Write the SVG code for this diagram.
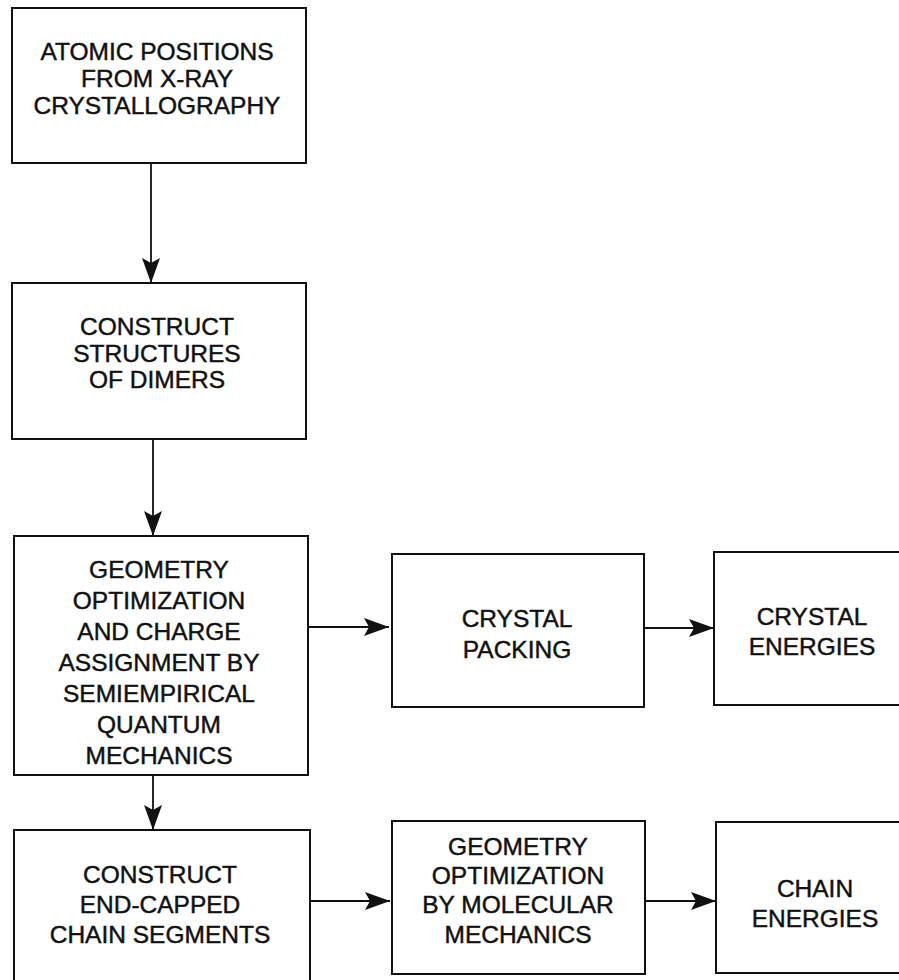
<svg xmlns="http://www.w3.org/2000/svg" width="899" height="980" viewBox="0 0 899 980">
<defs>
<style>
.box{fill:#fff;stroke:#111;stroke-width:2}
.t{font-family:"Liberation Sans",Arial,sans-serif;font-size:24.5px;fill:#111;stroke:#111;stroke-width:0.45;text-anchor:middle}
.c{stroke:#111;stroke-width:1.8;fill:none}
</style>
<marker id="ah" markerUnits="userSpaceOnUse" markerWidth="30" markerHeight="24" viewBox="-1 -12 28 24" refX="25" refY="0" orient="auto">
<path d="M0,-9 L25,0 L0,9 L5,0 z" fill="#111"/>
</marker>
</defs>
<rect width="899" height="980" fill="#fff"/>
<g id="connectors">
<line class="c" x1="151" y1="163" x2="151" y2="283" marker-end="url(#ah)"/>
<line class="c" x1="153" y1="439" x2="153" y2="536" marker-end="url(#ah)"/>
<line class="c" x1="153" y1="775" x2="153" y2="830" marker-end="url(#ah)"/>
<line class="c" x1="308" y1="627" x2="389" y2="627" marker-end="url(#ah)"/>
<line class="c" x1="644" y1="628" x2="714" y2="628" marker-end="url(#ah)"/>
<line class="c" x1="310" y1="901" x2="390" y2="901" marker-end="url(#ah)"/>
<line class="c" x1="645" y1="901" x2="716" y2="901" marker-end="url(#ah)"/>
</g>
<g id="n1">
<rect class="box" x="12" y="8" width="294" height="155"/>
<text class="t" x="157" y="60">ATOMIC POSITIONS</text>
<text class="t" x="157" y="87">FROM X-RAY</text>
<text class="t" x="157" y="114">CRYSTALLOGRAPHY</text>
</g>
<g id="n2">
<rect class="box" x="12" y="283" width="294" height="156"/>
<text class="t" x="157" y="335">CONSTRUCT</text>
<text class="t" x="157" y="361.5">STRUCTURES</text>
<text class="t" x="157" y="388">OF DIMERS</text>
</g>
<g id="n3">
<rect class="box" x="14" y="536" width="294" height="239"/>
<text class="t" x="159" y="578">GEOMETRY</text>
<text class="t" x="159" y="609">OPTIMIZATION</text>
<text class="t" x="159" y="640">AND CHARGE</text>
<text class="t" x="159" y="671">ASSIGNMENT BY</text>
<text class="t" x="159" y="702">SEMIEMPIRICAL</text>
<text class="t" x="159" y="733">QUANTUM</text>
<text class="t" x="159" y="764">MECHANICS</text>
</g>
<g id="n4">
<rect class="box" x="392" y="554" width="252" height="153"/>
<text class="t" x="517" y="627">CRYSTAL</text>
<text class="t" x="517" y="658">PACKING</text>
</g>
<g id="n5">
<rect class="box" x="714" y="552" width="200" height="153"/>
<text class="t" x="812" y="625">CRYSTAL</text>
<text class="t" x="812" y="655">ENERGIES</text>
</g>
<g id="n6">
<rect class="box" x="14" y="830" width="296" height="170"/>
<text class="t" x="160" y="883">CONSTRUCT</text>
<text class="t" x="160" y="913">END-CAPPED</text>
<text class="t" x="160" y="943">CHAIN SEGMENTS</text>
</g>
<g id="n7">
<rect class="box" x="392" y="821" width="253" height="153"/>
<text class="t" x="518" y="855">GEOMETRY</text>
<text class="t" x="518" y="884">OPTIMIZATION</text>
<text class="t" x="518" y="913">BY MOLECULAR</text>
<text class="t" x="518" y="943">MECHANICS</text>
</g>
<g id="n8">
<rect class="box" x="716" y="822" width="200" height="151"/>
<text class="t" x="815" y="897">CHAIN</text>
<text class="t" x="815" y="927">ENERGIES</text>
</g>
</svg>
